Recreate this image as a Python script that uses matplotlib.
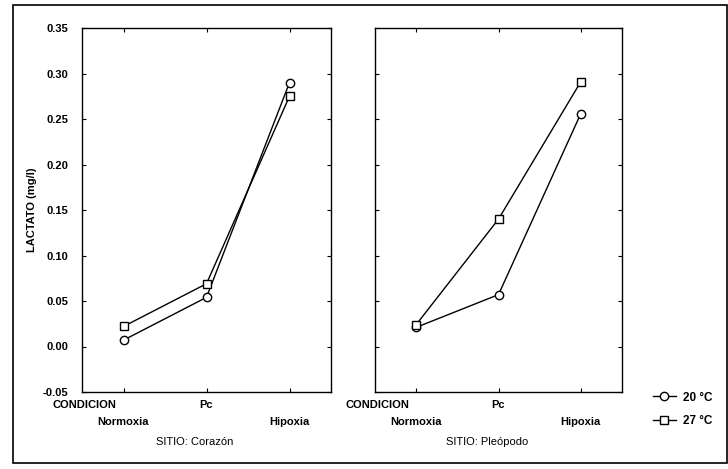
# coding:utf-8
# Lactato por condicion, sitio y temperatura

import matplotlib
matplotlib.use("Agg")
import matplotlib.pyplot as plt
from matplotlib.patches import Rectangle
from matplotlib.lines import Line2D

plt.rcParams["font.family"] = ["Liberation Sans", "DejaVu Sans"]

condiciones = ["Normoxia", "Pc", "Hipoxia"]
sitios = ["SITIO: Corazón", "SITIO: Pleópodo"]
temps = ["20 °C", "27 °C"]

# valores
corazon_20 = [0.007, 0.054, 0.290]
corazon_27 = [0.022, 0.069, 0.275]
pleopodo_20 = [0.021, 0.057, 0.256]
pleopodo_27 = [0.024, 0.140, 0.291]

yticks = [-0.05, 0.00, 0.05, 0.10, 0.15, 0.20, 0.25, 0.30, 0.35]

fig = plt.figure(figsize=(7.28, 4.69), dpi=100)
W, H = 728.0, 469.0
ax1 = fig.add_axes([82 / W, 1 - 392 / H, 249 / W, 364 / H])
ax2 = fig.add_axes([375 / W, 1 - 392 / H, 247 / W, 364 / H])

x = list(range(len(condiciones)))
datos = [(corazon_20, corazon_27), (pleopodo_20, pleopodo_27)]
fs = 8

for ax, (d20, d27), sitio in zip([ax1, ax2], datos, sitios):
    ax.plot(x, d20, "-o", color="black", lw=1.0, ms=6.0, mfc="white", mec="black", mew=1.0)
    ax.plot(x, d27, "-s", color="black", lw=1.0, ms=5.5, mfc="white", mec="black", mew=1.0)
    ax.set_xlim(-0.5, 2.5)
    ax.set_ylim(-0.05, 0.35)
    ax.set_yticks(yticks)
    ax.set_xticks(x)
    ax.set_xticklabels([])
    ax.tick_params(direction="in", length=3, width=0.8, top=True, right=True)
    ax.tick_params(axis="y", pad=10)
    for s in ax.spines.values():
        s.set_linewidth(1.0)
    tr = ax.get_xaxis_transform()
    ax.text(-0.47, -0.036, "CONDICION", transform=tr, ha="center", va="center",
            fontsize=fs, fontweight="bold")
    ax.text(x[1], -0.036, condiciones[1], transform=tr, ha="center", va="center",
            fontsize=fs, fontweight="bold")
    ax.text(x[0], -0.083, condiciones[0], transform=tr, ha="center", va="center",
            fontsize=fs, fontweight="bold")
    ax.text(x[2], -0.083, condiciones[2], transform=tr, ha="center", va="center",
            fontsize=fs, fontweight="bold")
    ax.text(0.86, -0.137, sitio, transform=tr, ha="center", va="center", fontsize=fs)

ax1.set_yticklabels(["%.2f" % v for v in yticks], fontsize=fs, fontweight="bold")
ax2.set_yticklabels([])
ax1.set_ylabel("LACTATO (mg/l)", fontsize=fs, fontweight="bold", labelpad=4)

# leyenda
handles = [
    Line2D([], [], color="black", lw=1.0, marker="o", ms=6.0, mfc="white", mec="black"),
    Line2D([], [], color="black", lw=1.0, marker="s", ms=5.5, mfc="white", mec="black"),
]
fig.legend(handles, temps, loc="upper left", bbox_to_anchor=(642 / W, 1 - 381 / H),
           frameon=False, handlelength=2.0, handletextpad=0.6,
           labelspacing=0.95, prop={"weight": "bold", "size": 8.5})

# marco exterior
fig.patches.append(Rectangle((13 / W, 1 - 463 / H), 714 / W, 458 / H, transform=fig.transFigure,
                             fill=False, edgecolor="black", lw=1.2))

plt.savefig("out.png", dpi=100)
plt.close()
